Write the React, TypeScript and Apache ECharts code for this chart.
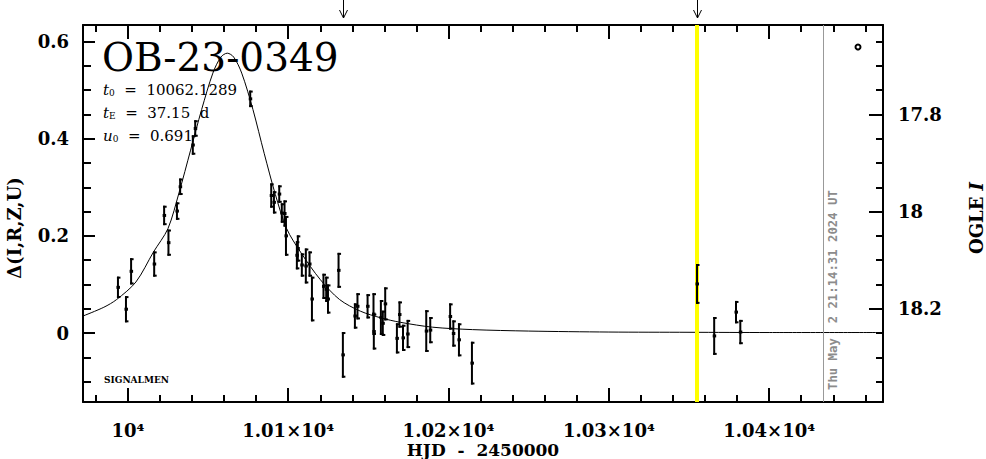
import React, { useEffect, useRef } from "react";
import * as echarts from "echarts";

// Observed data points: HJD-2450000, Δ flux, error
const hjd = [
  9993.8, 9998.8, 10002, 10016.4, 10022.6, 10025.3, 10030.6, 10032.6, 10040.5, 10042, 10076.3,
  10089.4, 10091.1, 10094.4, 10096, 10097.7, 10098.6, 10106, 10105.4, 10108.5, 10111, 10113.3,
  10114.8, 10122, 10123.7, 10124.8, 10131.4, 10134.1, 10141.6, 10143.2, 10149.5, 10153.2, 10153.4,
  10157.8, 10159, 10160.5, 10167.8, 10169.4, 10171.6, 10174.5, 10186.1, 10188.6, 10201, 10203,
  10206.5, 10214.6, 10355, 10365.7, 10379.3, 10382,
];
const delta = [
  0.094, 0.049, 0.127, 0.142, 0.242, 0.186, 0.251, 0.301, 0.387, 0.421, 0.482,
  0.283, 0.269, 0.286, 0.247, 0.246, 0.2, 0.174, 0.16, 0.14, 0.138, 0.142,
  0.07, 0.096, 0.09, 0.07, 0.129, -0.045, 0.035, 0.055, 0.055, 0.039, 0.003,
  0.032, 0.02, 0.06, -0.011, 0.038, -0.01, -0.002, 0.004, 0.006, 0.034, -0.001,
  -0.014, -0.062, 0.101, -0.006, 0.043, 0.002,
];
const err = [
  0.022, 0.027, 0.027, 0.026, 0.02, 0.027, 0.018, 0.017, 0.02, 0.017, 0.017,
  0.025, 0.023, 0.018, 0.02, 0.027, 0.041, 0.027, 0.029, 0.024, 0.036, 0.026,
  0.046, 0.026, 0.026, 0.03, 0.036, 0.047, 0.026, 0.027, 0.025, 0.043, 0.037,
  0.036, 0.026, 0.034, 0.031, 0.027, 0.027, 0.029, 0.043, 0.027, 0.027, 0.027,
  0.034, 0.044, 0.041, 0.039, 0.023, 0.025,
];

// Model curve
const modelHjd = [
  9972, 9985, 9993, 10005, 10016, 10025, 10032, 10039, 10046, 10053, 10058, 10062, 10066,
  10071, 10078, 10085, 10092, 10099, 10108, 10120, 10132, 10145, 10158, 10170, 10190, 10215,
  10250, 10300, 10350, 10400, 10471,
];
const modelDelta = [
  0.035, 0.053, 0.069, 0.105, 0.167, 0.215, 0.29, 0.375, 0.46, 0.535, 0.568, 0.576, 0.568,
  0.535, 0.46, 0.37, 0.285, 0.215, 0.165, 0.11, 0.069, 0.045, 0.031, 0.022, 0.012, 0.007,
  0.004, 0.002, 0.0015, 0.001, 0.001,
];

// Ticks
const xMajorTicks = [10000, 10100, 10200, 10300, 10400];
const xTickLabels = ["10⁴", "1.01×10⁴", "1.02×10⁴", "1.03×10⁴", "1.04×10⁴"];
const xMinorTicks = [
  9980, 10020, 10040, 10060, 10080, 10120, 10140, 10160, 10180, 10220, 10240, 10260, 10280,
  10320, 10340, 10360, 10380, 10420, 10440, 10460,
];
const yMajorTicks = [0, 0.2, 0.4, 0.6];
const yTickLabels = ["0", "0.2", "0.4", "0.6"];
const yMinorTicks = [-0.1, -0.05, 0.05, 0.1, 0.15, 0.25, 0.3, 0.35, 0.45, 0.5, 0.55];
const magMajorTicks = [17.8, 18, 18.2];
const magTickLabels = ["17.8", "18", "18.2"];
const magMinorTicks = [17.65, 17.7, 17.75, 17.85, 17.9, 17.95, 18.05, 18.1, 18.15, 18.25, 18.3, 18.35];

// Markers
const arrowHjd = [10134, 10355];
const yellowHjd = 10355;
const nowHjd = 10434;

const X_MIN = 9972;
const X_MAX = 10471;
const Y_MIN = -0.142;
const Y_MAX = 0.634;
const MAG_MIN = 17.616;
const MAG_MAX = 18.392;

const FONT = "DejaVu Serif";

function axisBase(extra: any) {
  return {
    type: "value",
    splitLine: { show: false },
    axisLine: { show: false, onZero: false, lineStyle: { color: "#000", width: 2 } },
    ...extra,
  };
}

export default function App() {
  const ref = useRef<HTMLDivElement>(null);
  useEffect(() => {
    const chart = echarts.init(ref.current!, null, { renderer: "svg" });
    const labelStyle = { color: "#000", fontFamily: FONT, fontWeight: "bold", fontSize: 18 };
    const option: any = {
      animation: false,
      backgroundColor: "#fff",
      grid: { left: 83, right: 103, top: 25, bottom: 57, containLabel: false, outerBoundsMode: "none" },
      xAxis: [
        axisBase({
          position: "bottom",
          min: X_MIN,
          max: X_MAX,
          axisLine: { show: true, onZero: false, lineStyle: { color: "#000", width: 2 } },
          axisTick: { show: true, inside: true, length: 14, customValues: xMajorTicks, lineStyle: { color: "#000", width: 2 } },
          axisLabel: {
            ...labelStyle,
            margin: 19,
            customValues: xMajorTicks,
            formatter: (v: number) => xTickLabels[xMajorTicks.indexOf(v)] ?? "",
          },
          name: "HJD  -  2450000",
          nameLocation: "middle",
          nameGap: 39,
          nameMoveOverlap: false,
          nameTextStyle: { ...labelStyle, fontSize: 17, lineHeight: 17, verticalAlign: "top" },
        }),
        axisBase({
          position: "bottom",
          min: X_MIN,
          max: X_MAX,
          axisTick: { show: true, inside: true, length: 7, customValues: xMinorTicks, lineStyle: { color: "#000", width: 2 } },
          axisLabel: { show: false },
        }),
        axisBase({
          position: "top",
          min: X_MIN,
          max: X_MAX,
          axisLine: { show: true, onZero: false, lineStyle: { color: "#000", width: 2 } },
          axisTick: { show: true, inside: true, length: 14, customValues: xMajorTicks, lineStyle: { color: "#000", width: 2 } },
          axisLabel: { show: false },
        }),
        axisBase({
          position: "top",
          min: X_MIN,
          max: X_MAX,
          axisTick: { show: true, inside: true, length: 7, customValues: xMinorTicks, lineStyle: { color: "#000", width: 2 } },
          axisLabel: { show: false },
        }),
      ],
      yAxis: [
        axisBase({
          position: "left",
          min: Y_MIN,
          max: Y_MAX,
          axisLine: { show: true, onZero: false, lineStyle: { color: "#000", width: 2 } },
          axisTick: { show: true, inside: true, length: 12, customValues: yMajorTicks, lineStyle: { color: "#000", width: 2 } },
          axisLabel: {
            ...labelStyle,
            margin: 14,
            customValues: yMajorTicks,
            formatter: (v: number) => yTickLabels[yMajorTicks.indexOf(v)] ?? "",
          },
        }),
        axisBase({
          position: "left",
          min: Y_MIN,
          max: Y_MAX,
          axisTick: { show: true, inside: true, length: 8, customValues: yMinorTicks, lineStyle: { color: "#000", width: 2 } },
          axisLabel: { show: false },
        }),
        axisBase({
          position: "right",
          inverse: true,
          min: MAG_MIN,
          max: MAG_MAX,
          axisLine: { show: true, onZero: false, lineStyle: { color: "#000", width: 2 } },
          axisTick: { show: true, inside: true, length: 14, customValues: magMajorTicks, lineStyle: { color: "#000", width: 2 } },
          axisLabel: {
            ...labelStyle,
            margin: 15,
            customValues: magMajorTicks,
            formatter: (v: number) => magTickLabels[magMajorTicks.indexOf(v)] ?? "",
          },
        }),
        axisBase({
          position: "right",
          inverse: true,
          min: MAG_MIN,
          max: MAG_MAX,
          axisTick: { show: true, inside: true, length: 7, customValues: magMinorTicks, lineStyle: { color: "#000", width: 2 } },
          axisLabel: { show: false },
        }),
      ],
      series: [
        {
          type: "line",
          xAxisIndex: 0,
          yAxisIndex: 0,
          data: modelHjd.map((t, i) => [t, modelDelta[i]]),
          smooth: 0.3,
          showSymbol: false,
          symbol: "none",
          lineStyle: { color: "#000", width: 1 },
          z: 2,
          silent: true,
          markLine: {
            silent: true,
            symbol: "none",
            label: { show: false },
            data: [
              { xAxis: yellowHjd, lineStyle: { color: "#ffff00", width: 4, type: "solid" } },
              { xAxis: nowHjd, lineStyle: { color: "#999999", width: 1, type: "solid" } },
            ],
          },
        },
        {
          type: "custom",
          xAxisIndex: 0,
          yAxisIndex: 0,
          z: 5,
          silent: true,
          clip: true,
          data: hjd.map((t, i) => [t, delta[i], err[i]]),
          encode: { x: 0, y: 1 },
          renderItem: (_params: any, api: any) => {
            const x = api.value(0);
            const y = api.value(1);
            const e = api.value(2);
            const lo = api.coord([x, y - e]);
            const hi = api.coord([x, y + e]);
            const c = api.coord([x, y]);
            const st = { stroke: "#000", lineWidth: 2 };
            return {
              type: "group",
              children: [
                { type: "line", shape: { x1: c[0], y1: lo[1], x2: c[0], y2: hi[1] }, style: st },
                { type: "line", shape: { x1: c[0] - 1, y1: lo[1] - 1, x2: c[0] + 2.5, y2: lo[1] - 1 }, style: st },
                { type: "line", shape: { x1: c[0] - 1, y1: hi[1] + 1, x2: c[0] + 2.5, y2: hi[1] + 1 }, style: st },
                { type: "rect", shape: { x: c[0] - 1.5, y: c[1] - 1.5, width: 3.5, height: 3 }, style: { fill: "#000" } },
              ],
            };
          },
        },
      ],
    };
    chart.setOption(option);

    const px = (v: number) => chart.convertToPixel({ xAxisIndex: 0 }, v) as number;
    const py = (v: number) => chart.convertToPixel({ yAxisIndex: 0 }, v) as number;
    const graphics: any[] = [];
    arrowHjd.forEach((v) => {
      const x = Math.round(px(v)) + 0.5;
      graphics.push({ type: "line", shape: { x1: x, y1: 0, x2: x, y2: 18 }, style: { stroke: "#000", lineWidth: 1 } });
      graphics.push({
        type: "polyline",
        shape: { points: [[x - 4, 10], [x, 18], [x + 4, 10]] },
        style: { stroke: "#000", lineWidth: 1, fill: null },
      });
    });
    graphics.push({
      type: "text",
      x: px(nowHjd) + 9,
      y: py(Y_MIN) - 12,
      rotation: Math.PI / 2,
      style: {
        text: "Thu May  2 21:14:31 2024 UT",
        fill: "#8c8c8c",
        font: "bold 12.3px 'DejaVu Sans Mono'",
        align: "left",
        verticalAlign: "middle",
      },
    });
    graphics.push({
      type: "text",
      x: 102,
      y: 57,
      style: {
        text: "OB-23-0349",
        fill: "#000",
        font: "39px 'DejaVu Serif'",
        align: "left",
        verticalAlign: "middle",
      },
    });
    const paramRich = {
      i: { fontFamily: FONT, fontStyle: "italic", fontSize: 15, lineHeight: 18, verticalAlign: "bottom", fill: "#000" },
      s: { fontFamily: FONT, fontSize: 9, lineHeight: 18, verticalAlign: "bottom", fill: "#000" },
      n: { fontFamily: FONT, fontSize: 15, lineHeight: 18, verticalAlign: "bottom", fill: "#000" },
    };
    const params = [
      ["t", "0", "  =  10062.1289", 88],
      ["t", "E", "  =  37.15  d", 111],
      ["u", "0", "  =  0.691", 134],
    ];
    params.forEach(([a, b, c, y]) => {
      graphics.push({
        type: "text",
        x: 103,
        y: y as number,
        style: {
          text: `{i|${a}}{s|${b}}{n|${c}}`,
          rich: paramRich,
          align: "left",
          verticalAlign: "middle",
        },
      });
    });
    graphics.push({
      type: "text",
      x: 104,
      y: 380,
      style: { text: "SIGNALMEN", fill: "#000", font: "bold 9px 'DejaVu Serif'", align: "left", verticalAlign: "middle" },
    });
    graphics.push({
      type: "circle",
      shape: { cx: 858, cy: 47, r: 2.5 },
      style: { stroke: "#000", lineWidth: 2, fill: "#fff" },
    });
    graphics.push({
      type: "text",
      x: 14,
      y: 228,
      rotation: Math.PI / 2,
      style: { text: "Δ(I,R,Z,U)", fill: "#000", font: "bold 18px 'DejaVu Serif'", align: "center", verticalAlign: "middle" },
    });
    graphics.push({
      type: "text",
      x: 976,
      y: 218,
      rotation: Math.PI / 2,
      style: {
        text: "{n|OGLE }{i|I}",
        rich: {
          n: { fontFamily: FONT, fontWeight: "bold", fontSize: 18, fill: "#000" },
          i: { fontFamily: FONT, fontWeight: "bold", fontStyle: "italic", fontSize: 18, fill: "#000" },
        },
        align: "center",
        verticalAlign: "middle",
      },
    });
    chart.setOption({ graphic: graphics });
    return () => chart.dispose();
  }, []);
  return (
    <div
      ref={ref}
      style={{ position: "fixed", left: 0, top: 0, width: 986, height: 459, background: "#fff" }}
    />
  );
}
